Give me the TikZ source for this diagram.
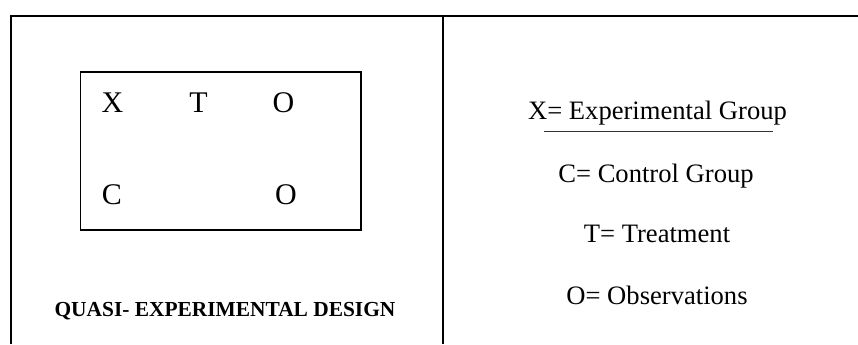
\documentclass[tikz,border=0pt]{standalone}
\usepackage{fontspec}
\setmainfont{Liberation Serif}

\begin{document}
\begin{tikzpicture}[x=0.5pt, y=-0.5pt,
    frame/.style={line width=1pt},
    letter/.style={anchor=base, inner sep=0pt, font=\fontsize{15}{18}\selectfont},
    legend/.style={anchor=base, inner sep=0pt, font=\fontsize{13.3}{16}\selectfont}]
  \useasboundingbox (0,0) rectangle (858,344);
  % table rules
  \draw[frame] (11,344) -- (11,16) -- (858,16);
  \draw[frame] (443,16) -- (443,344);
  % design box
  \draw[line width=0.6pt] (80.7,72) rectangle (361,230);
  \node[letter] (x)  at (112.5,112) {X};
  \node[letter] (t)  at (198.5,112) {T};
  \node[letter] (o1) at (283.5,112) {O};
  \node[letter] (c)  at (112,204) {C};
  \node[letter] (o2) at (286,204) {O};
  \node[anchor=base, inner sep=0pt, font=\fontsize{10.7}{13}\selectfont\bfseries]
    (title) at (225,316) {QUASI- EXPERIMENTAL DESIGN};
  % legend
  \node[legend] (lx) at (657.5,119) {X= Experimental Group};
  \draw[line width=0.5pt, black!80] (544,131) -- (773,131);
  \node[legend] (lc) at (656,182) {C= Control Group};
  \node[legend] (lt) at (657,242) {T= Treatment};
  \node[legend] (lo) at (657,304) {O= Observations};
\end{tikzpicture}
\end{document}
